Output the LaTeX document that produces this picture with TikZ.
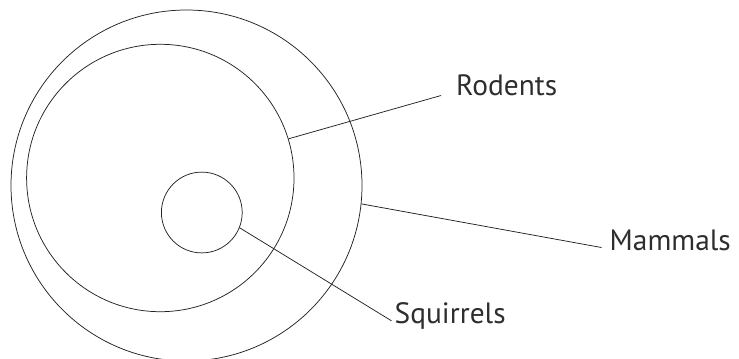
\documentclass[tikz,border=0pt]{standalone}
\usepackage{fontspec}
\setmainfont{PT Sans}
\usepackage{tikz}
\usetikzlibrary{positioning,calc}
\definecolor{ink}{HTML}{222222}
\definecolor{textgray}{HTML}{2E2E2E}
\tikzset{
  setring/.style={draw=ink,circle,line width=0.75pt,inner sep=0pt},
  setlabel/.style={text=textgray,inner sep=0pt,anchor=base west,
                   font=\fontsize{29.5}{31}\selectfont},
  leader/.style={draw=ink,line width=0.75pt}
}

\begin{document}
\begin{tikzpicture}[x=1bp,y=-1bp]
  \useasboundingbox (0,0) rectangle (739,358);
  % nested sets
  \node[setring,minimum size=351bp] (mammals) at (186.5,185.5) {};
  \node[setring,minimum size=267.4bp] (rodents) at (160.3,178) {};
  \node[setring,minimum size=80.8bp] (squirrels) at (201.8,212.5) {};

  % labels
  \node[setlabel] (lblRodents) at (456,95) {Rodents};
  \node[setlabel] (lblMammals) at (609.5,250) {Mammals};
  \node[setlabel] (lblSquirrels) at (394.5,323.3) {Squirrels};

  % leader lines
  \draw[leader] (rodents.17.6) -- ([xshift=-15bp,yshift=-3bp]lblRodents.mid west);
  \draw[leader] (mammals.-6) -- ([xshift=-8bp]lblMammals.mid west);
  \draw[leader] (squirrels.-22.5) -- ([xshift=-3bp]lblSquirrels.mid west);
\end{tikzpicture}
\end{document}
